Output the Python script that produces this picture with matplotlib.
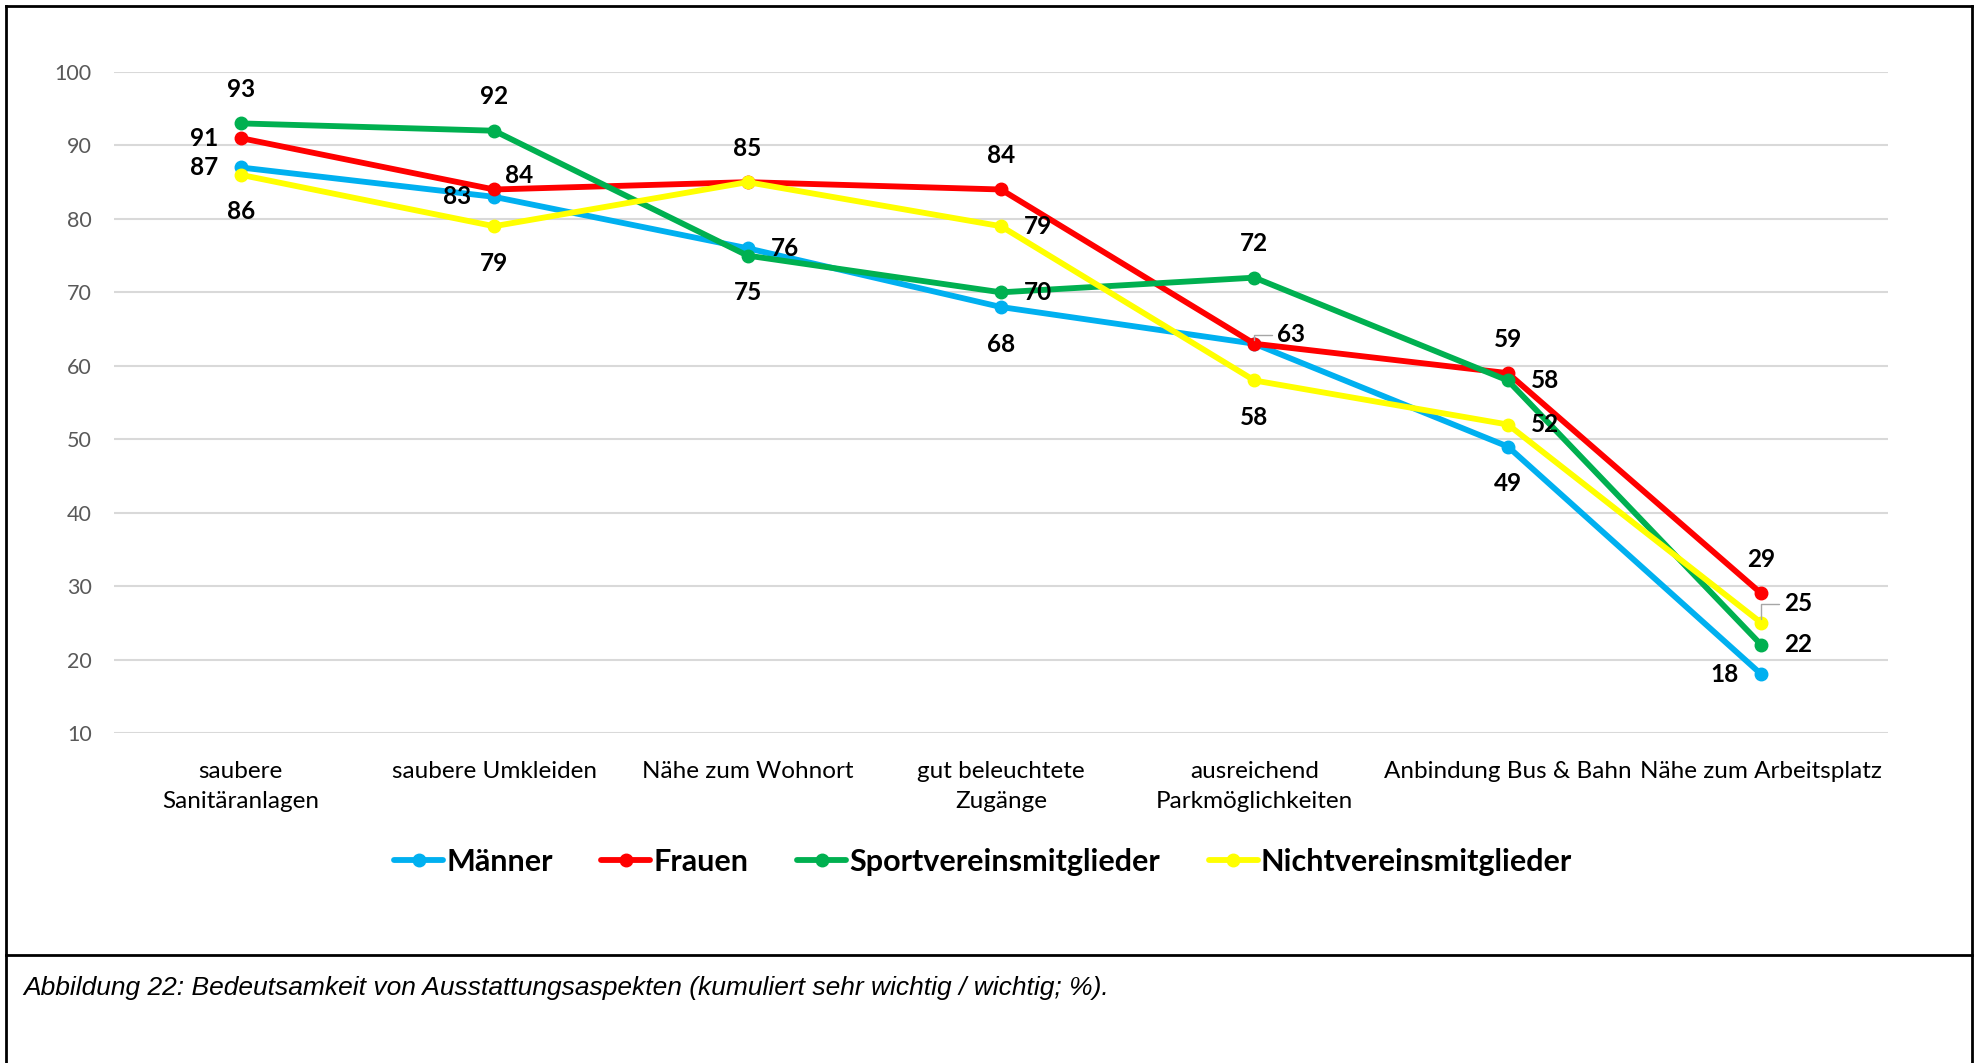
import matplotlib
matplotlib.use("Agg")
import matplotlib.pyplot as plt
from matplotlib.lines import Line2D

plt.rcParams['font.family'] = ['Lato', 'DejaVu Sans']

# data
kategorien = ["saubere\nSanitäranlagen", "saubere Umkleiden", "Nähe zum Wohnort",
              "gut beleuchtete\nZugänge", "ausreichend\nParkmöglichkeiten",
              "Anbindung Bus & Bahn", "Nähe zum Arbeitsplatz"]
maenner = [87, 83, 76, 68, 63, 49, 18]
frauen = [91, 84, 85, 84, 63, 59, 29]
sport = [93, 92, 75, 70, 72, 58, 22]
nicht = [86, 79, 85, 79, 58, 52, 25]
namen = ["Männer", "Frauen", "Sportvereinsmitglieder", "Nichtvereinsmitglieder"]
y_ticks = [10, 20, 30, 40, 50, 60, 70, 80, 90, 100]

farben = ["#00B0F0", "#FF0000", "#00B050", "#FFFF00"]

# label offsets in pixels (None = label not shown)
L, R, U, D = (-37, 0), (37, 0), (0, 34), (0, -37)
offs = [
    [L, L, R, D, None, D, L],
    [L, (25, 14), U, U, (37, 9), U, U],
    [U, U, D, R, U, R, R],
    [D, D, None, R, D, R, (37, 19)],
]
leader = {(1, 4), (3, 6)}

fig = plt.figure(figsize=(19.78, 10.63), dpi=100)
ax = fig.add_axes([0.0576, 0.3104, 0.8969, 0.6219])

x = list(range(len(kategorien)))
serien = [maenner, frauen, sport, nicht]
for i, (werte, name, c) in enumerate(zip(serien, namen, farben)):
    ax.plot(x, werte, color=c, lw=4.2, marker='o', markersize=9, label=name,
            zorder=3 + i, solid_capstyle='round')
    for j, v in enumerate(werte):
        o = offs[i][j]
        if o is None:
            continue
        ap = None
        if (i, j) in leader:
            ap = dict(arrowstyle='-', color='#A6A6A6', lw=1, shrinkA=2, shrinkB=3,
                      relpos=(0, 0.5), connectionstyle="angle,angleA=0,angleB=90,rad=0")
        ax.annotate(str(v), (j, v), xytext=o, textcoords='offset pixels',
                    ha='center', va='center', fontsize=17.5, fontweight='bold',
                    color='black', zorder=10, arrowprops=ap)

ax.set_xlim(-0.5, 6.5)
ax.set_ylim(10, 100)
ax.set_yticks(y_ticks)
ax.set_xticks(x)
ax.set_xticklabels(kategorien, fontsize=17.5, linespacing=1.55, va='top')
ax.tick_params(axis='x', length=0, pad=20)
ax.tick_params(axis='y', length=0, pad=16, labelsize=15.5, labelcolor='#595959')
ax.grid(axis='y', color='#D9D9D9', lw=1.5)
ax.set_axisbelow(True)
for s in ax.spines.values():
    s.set_visible(False)

leg = fig.legend(loc='center', bbox_to_anchor=(0.497, 0.189), ncol=4, frameon=False,
                 prop={'weight': 'bold', 'size': 22}, handlelength=1.6,
                 handletextpad=0.1, columnspacing=1.6)

fig.text(0.0116, 0.071, "Abbildung 22: Bedeutsamkeit von Ausstattungsaspekten "
         "(kumuliert sehr wichtig / wichtig; %).", fontsize=19, style='italic',
         family=['Liberation Sans', 'DejaVu Sans'], va='center', ha='left')

# frame
for xs, ys in [([0.003, 0.997], [0.9944, 0.9944]), ([0.003, 0.997], [0.1016, 0.1016]),
               ([0.003, 0.003], [0, 0.9944]), ([0.997, 0.997], [0, 0.9944])]:
    fig.add_artist(Line2D(xs, ys, transform=fig.transFigure, color='black', lw=2))

fig.savefig("out.png", dpi=100)
